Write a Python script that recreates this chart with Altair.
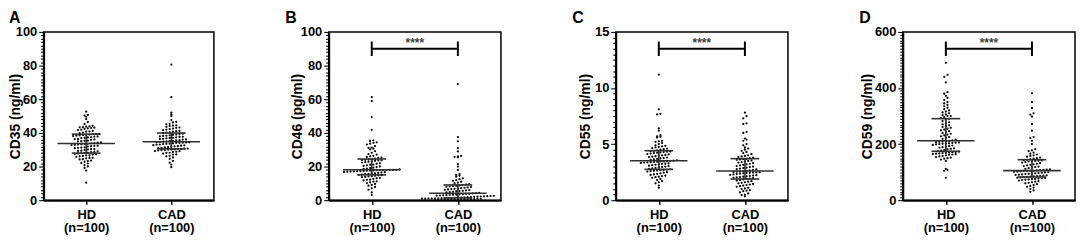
import altair as alt
import pandas as pd

FONT = "Liberation Sans"
GROUPS = ["HD", "CAD"]
N_LABELS = ["(n=100)", "(n=100)"]
LETTERS = ["A", "B", "C", "D"]
Y_TITLES = ["CD35 (ng/ml)", "CD46 (pg/ml)", "CD55 (ng/ml)", "CD59 (ng/ml)"]
Y_MAX = [100, 100, 15, 600]
Y_MAJOR_STEP = [20, 20, 5, 200]
Y_MINOR_STEP = [2, 2, 0.5, 10]
SIG = ["", "****", "****", "****"]

cd35_hd = [10.4, 17.6, 19.2, 20.1, 20.9, 21.8, 22.1, 22.9, 23.3, 23.6, 24.2, 24.4, 24.9, 25.1, 25.2, 25.8, 26.1, 26.3, 26.6, 26.7, 27.1, 27.3, 27.4, 27.8, 27.9,
           28.0, 28.2, 28.6, 28.7, 29.1, 29.3, 29.4, 29.9, 30.1, 30.3, 30.4, 30.9, 31.1, 31.3, 31.4, 31.9, 32.1, 32.3, 32.4, 32.8, 32.9, 33.1, 33.2, 33.4, 33.5,
           33.8, 33.9, 34.3, 34.4, 34.9, 35.1, 35.3, 35.4, 35.9, 36.1, 36.3, 36.4, 36.9, 37.1, 37.3, 37.4, 37.8, 37.9, 38.1, 38.3, 38.5, 38.7, 38.8, 39.0, 39.2,
           39.4, 39.5, 39.9, 40.2, 40.7, 40.9, 41.2, 41.7, 41.9, 42.4, 42.7, 42.9, 43.1, 43.3, 43.4, 43.7, 43.9, 44.2, 45.3, 46.4, 48.2, 49.6, 50.3, 50.7, 52.6]
cd35_cad = [19.6, 21.1, 22.3, 23.4, 24.6, 25.4, 26.1, 26.4, 27.1, 27.2, 27.7, 28.1, 28.2, 28.7, 28.8, 29.1, 29.2, 29.6, 29.7, 29.8, 30.0, 30.1, 30.2, 30.3, 30.4,
            30.6, 30.7, 31.0, 31.1, 31.4, 31.6, 31.7, 32.0, 32.1, 32.4, 32.6, 32.7, 33.0, 33.1, 33.4, 33.5, 33.6, 33.8, 34.0, 34.1, 34.2, 34.3, 34.4, 34.5, 34.6,
            34.8, 34.9, 35.2, 35.3, 35.6, 35.7, 36.0, 36.1, 36.4, 36.5, 36.8, 37.0, 37.1, 37.4, 37.6, 37.7, 38.0, 38.2, 38.3, 38.6, 38.8, 39.0, 39.3, 39.5, 39.9,
            40.1, 40.3, 40.7, 41.0, 41.2, 41.6, 42.0, 42.2, 42.6, 43.0, 43.2, 43.6, 44.1, 44.3, 44.5, 45.1, 45.4, 46.2, 46.6, 47.6, 50.1, 51.0, 52.1, 61.2, 80.6]
cd46_hd = [3.1, 4.6, 6.2, 7.1, 7.9, 8.6, 9.1, 9.7, 10.2, 10.6, 11.1, 11.2, 11.8, 12.1, 12.2, 12.7, 13.1, 13.2, 13.7, 13.8, 14.1, 14.3, 14.6, 14.7, 14.9,
           15.1, 15.2, 15.6, 15.7, 15.9, 16.0, 16.3, 16.4, 16.7, 16.8, 16.9, 17.0, 17.1, 17.2, 17.3, 17.4, 17.5, 17.6, 17.7, 17.8, 17.8, 17.9, 17.9, 18.0, 18.0,
           18.1, 18.3, 18.6, 18.8, 19.1, 19.3, 19.7, 20.1, 20.4, 20.7, 21.1, 21.2, 21.7, 22.0, 22.4, 22.6, 22.9, 23.1, 23.4, 23.6, 23.7, 23.9, 24.0, 24.2, 24.4,
           24.7, 25.1, 25.3, 25.7, 26.1, 26.4, 27.1, 27.4, 28.2, 29.1, 30.2, 30.6, 31.1, 31.3, 32.2, 33.1, 33.6, 34.1, 34.4, 35.2, 35.6, 41.8, 49.4, 58.9, 61.3]
cd46_cad = [0.1, 0.2, 0.2, 0.3, 0.3, 0.4, 0.4, 0.5, 0.5, 0.6, 0.6, 0.7, 0.7, 0.8, 0.8, 0.9, 0.9, 1.0, 1.0, 1.1, 1.1, 1.2, 1.2, 1.3, 1.3,
            1.4, 1.5, 1.6, 1.7, 1.8, 1.9, 2.0, 2.1, 2.2, 2.3, 2.4, 2.5, 2.6, 2.7, 2.8, 2.9, 3.0, 3.1, 3.2, 3.3, 3.5, 3.6, 3.7, 3.8, 4.0,
            4.2, 4.4, 4.6, 4.8, 5.0, 5.2, 5.4, 5.6, 5.8, 6.0, 6.2, 6.4, 6.6, 6.8, 7.0, 7.2, 7.4, 7.6, 7.8, 8.0, 8.2, 8.4, 8.6, 8.8, 9.0,
            9.3, 9.6, 10.0, 10.5, 11.0, 11.5, 12.0, 12.5, 13.0, 14.0, 14.5, 15.0, 15.5, 18.0, 20.0, 21.5, 25.5, 25.8, 26.0, 26.3, 29.0, 31.0, 35.0, 37.5, 69.0]
cd55_hd = [1.1, 1.3, 1.5, 1.6, 1.7, 1.8, 1.9, 2.0, 2.05, 2.1, 2.15, 2.2, 2.25, 2.3, 2.35, 2.4, 2.45, 2.5, 2.55, 2.6, 2.62, 2.65, 2.68, 2.7, 2.72,
           2.76, 2.8, 2.84, 2.88, 2.92, 2.96, 3.0, 3.04, 3.08, 3.12, 3.16, 3.2, 3.23, 3.26, 3.29, 3.32, 3.35, 3.37, 3.39, 3.41, 3.43, 3.45, 3.46, 3.48, 3.5,
           3.53, 3.56, 3.6, 3.64, 3.68, 3.72, 3.76, 3.8, 3.84, 3.88, 3.92, 3.96, 4.0, 4.04, 4.08, 4.12, 4.16, 4.2, 4.23, 4.26, 4.29, 4.32, 4.35, 4.38, 4.4,
           4.45, 4.5, 4.55, 4.6, 4.65, 4.7, 4.75, 4.8, 4.85, 4.9, 5.0, 5.1, 5.2, 5.25, 5.3, 5.6, 5.65, 5.7, 5.8, 6.2, 6.4, 7.65, 7.7, 8.1, 11.2]
cd55_cad = [0.35, 0.45, 0.5, 0.6, 0.7, 0.8, 0.85, 0.9, 1.0, 1.05, 1.1, 1.2, 1.25, 1.3, 1.35, 1.4, 1.45, 1.5, 1.55, 1.6, 1.65, 1.7, 1.75, 1.8, 1.85,
            1.9, 1.93, 1.96, 2.0, 2.03, 2.06, 2.1, 2.13, 2.16, 2.2, 2.23, 2.26, 2.3, 2.33, 2.36, 2.4, 2.42, 2.44, 2.46, 2.48, 2.5, 2.52, 2.54, 2.56, 2.58,
            2.62, 2.66, 2.7, 2.74, 2.78, 2.82, 2.86, 2.9, 2.95, 3.0, 3.05, 3.1, 3.15, 3.2, 3.25, 3.3, 3.35, 3.4, 3.45, 3.5, 3.55, 3.6, 3.63, 3.66, 3.69,
            3.75, 3.8, 3.85, 3.9, 3.95, 4.0, 4.1, 4.2, 4.3, 4.4, 4.5, 4.6, 4.7, 4.9, 5.0, 5.3, 5.4, 5.5, 6.0, 6.1, 6.8, 6.85, 7.3, 7.5, 7.8]
cd59_hd = [80, 105, 108, 112, 140, 145, 148, 150, 152, 154, 156, 158, 160, 162, 163, 164, 165, 166, 167, 168, 169, 170, 171, 172, 173,
           175, 177, 179, 181, 183, 185, 187, 189, 191, 193, 195, 197, 199, 200, 201, 202, 203, 204, 205, 206, 207, 208, 209, 210, 211,
           213, 216, 219, 222, 225, 228, 231, 234, 237, 240, 243, 246, 249, 252, 255, 258, 261, 264, 267, 270, 274, 278, 282, 286, 290,
           293, 296, 300, 300, 303, 306, 310, 313, 316, 320, 325, 330, 335, 340, 345, 350, 358, 365, 372, 380, 385, 420, 440, 447, 490]
cd59_cad = [30, 35, 40, 45, 48, 51, 54, 57, 60, 62, 64, 66, 68, 70, 72, 73, 74, 75, 76, 77, 78, 79, 80, 81, 82,
            83, 84, 85, 86, 87, 88, 89, 90, 91, 92, 93, 94, 95, 96, 97, 98, 99, 100, 101, 102, 103, 104, 104, 105, 105,
            106, 107, 108, 109, 110, 112, 114, 116, 118, 120, 122, 124, 126, 128, 130, 132, 134, 136, 138, 139, 140, 141, 142, 143, 144,
            146, 148, 150, 152, 155, 158, 160, 163, 166, 170, 175, 178, 182, 200, 212, 222, 225, 248, 272, 298, 305, 310, 328, 350, 381]

SERIES = [(cd35_hd, cd35_cad), (cd46_hd, cd46_cad), (cd55_hd, cd55_cad), (cd59_hd, cd59_cad)]

H = 170
WIDTHS = [172, 174, 174, 174]
ROW_PX = 3.0
DOT_PX = 3.3
LINE = "#303030"
# (axis extent, title padding, letter dx) per panel
AXIS_LAYOUT = [(19, 2, -35), (21, 3, -44), (21, 3, -44), (26, 3, -44)]


def panel(i):
    hd, cad = SERIES[i]
    ymax = Y_MAX[i]
    W = WIDTHS[i]
    unit = W / 2.0
    med_half = 29 / unit
    q_half = 14.5 / unit
    df = pd.DataFrame({
        "g": [GROUPS[0]] * len(hd) + [GROUPS[1]] * len(cad),
        "gi": [1] * len(hd) + [2] * len(cad),
        "v": hd + cad,
    })
    step = Y_MINOR_STEP[i]
    major = Y_MAJOR_STEP[i]
    ticks = [round(k * step, 4) for k in range(int(round(ymax / step)) + 1)]
    ext, tpad, ldx = AXIS_LAYOUT[i]

    yaxis = alt.Axis(
        title=Y_TITLES[i], values=ticks, format=".1~f",
        labelExpr=f"datum.value % {major} === 0 ? datum.label : ''",
        tickSize={"condition": {"test": f"datum.value % {major} === 0", "value": 5}, "value": 3},
        tickWidth=1.1, tickColor="black", domainColor="black", domainWidth=2,
        labelFont=FONT, labelFontSize=13, labelFontWeight="bold", labelColor="black",
        labelPadding=2, labelOverlap=False, labelBound=False,
        titleFont=FONT, titleFontSize=14, titleFontWeight="bold", titleColor="black",
        titlePadding=tpad, minExtent=ext, maxExtent=ext, grid=False,
    )
    xaxis = alt.Axis(
        title=None, values=[1, 2],
        labelExpr=(f"datum.value == 1 ? ['{GROUPS[0]}', '{N_LABELS[0]}'] : "
                   f"['{GROUPS[1]}', '{N_LABELS[1]}']"),
        tickSize=4, tickWidth=1.5, tickColor="black", domainColor="black", domainWidth=2,
        labelFont=FONT, labelFontSize=13, labelFontWeight="bold", labelColor="black",
        labelLineHeight=14, labelPadding=4, labelFlush=False, grid=False,
    )
    xs = alt.Scale(domain=[0.5, 2.5], nice=False, zero=False)
    ys = alt.Scale(domain=[0, ymax], nice=False, zero=True)

    def X(f):
        return alt.X(f, type="quantitative", scale=xs, axis=xaxis)

    def Y(f):
        return alt.Y(f, type="quantitative", scale=ys, axis=yaxis)

    base = alt.Chart(df)
    pts = (base
           .transform_calculate(row=f"round(datum.v / {ymax} * {H} / {ROW_PX})")
           .transform_window(rank="row_number()", groupby=["gi", "row"], sort=[alt.SortField("v")])
           .transform_joinaggregate(n="count()", groupby=["gi", "row"])
           .transform_calculate(xp=f"datum.gi + (datum.rank - (datum.n + 1) / 2) * {DOT_PX / unit}")
           .mark_circle(size=5, color="black", opacity=1)
           .encode(x=X("xp"), y=Y("v")))

    st = (base
          .transform_aggregate(med="median(v)", q1="q1(v)", q3="q3(v)", groupby=["gi"])
          .transform_calculate(ml=f"datum.gi - {med_half}", mr=f"datum.gi + {med_half}",
                               ql=f"datum.gi - {q_half}", qr=f"datum.gi + {q_half}"))
    med = st.mark_rule(color=LINE, strokeWidth=1.6).encode(x=X("ml"), x2="mr:Q", y=Y("med"))
    q1 = st.mark_rule(color=LINE, strokeWidth=1.6).encode(x=X("ql"), x2="qr:Q", y=Y("q1"))
    q3 = st.mark_rule(color=LINE, strokeWidth=1.6).encode(x=X("ql"), x2="qr:Q", y=Y("q3"))
    vl = st.mark_rule(color=LINE, strokeWidth=1.6).encode(x=X("gi"), y=Y("q1"), y2="q3:Q")

    layers = [pts, med, q1, q3, vl]
    if SIG[i]:
        br = alt.Chart(pd.DataFrame({"x1": [1], "x2": [2], "xm": [1.5],
                                     "y": [0.9 * ymax], "lo": [0.857 * ymax], "hi": [0.943 * ymax],
                                     "t": [SIG[i]]}))
        layers += [
            br.mark_rule(color="black", strokeWidth=2).encode(x=X("x1"), x2="x2:Q", y=Y("y")),
            br.mark_rule(color="black", strokeWidth=2).encode(x=X("x1"), y=Y("lo"), y2="hi:Q"),
            br.mark_rule(color="black", strokeWidth=2).encode(x=X("x2"), y=Y("lo"), y2="hi:Q"),
            br.mark_text(font=FONT, fontSize=12, fontWeight="bold", color="#404040",
                         baseline="alphabetic", dy=-2).encode(x=X("xm"), y=Y("y"), text="t:N"),
        ]
    return alt.layer(*layers).properties(
        width=W, height=H,
        title=alt.TitleParams(LETTERS[i], anchor="start", frame="group", dx=ldx,
                              fontSize=16, fontWeight="bold", font=FONT, color="black", offset=0),
    )


chart = (alt.hconcat(*[panel(i) for i in range(4)], spacing=70)
         .properties(padding=0)
         .configure_view(stroke="black", strokeWidth=1.5))

chart.save("out.html", embed_options={"renderer": "svg", "actions": False})
